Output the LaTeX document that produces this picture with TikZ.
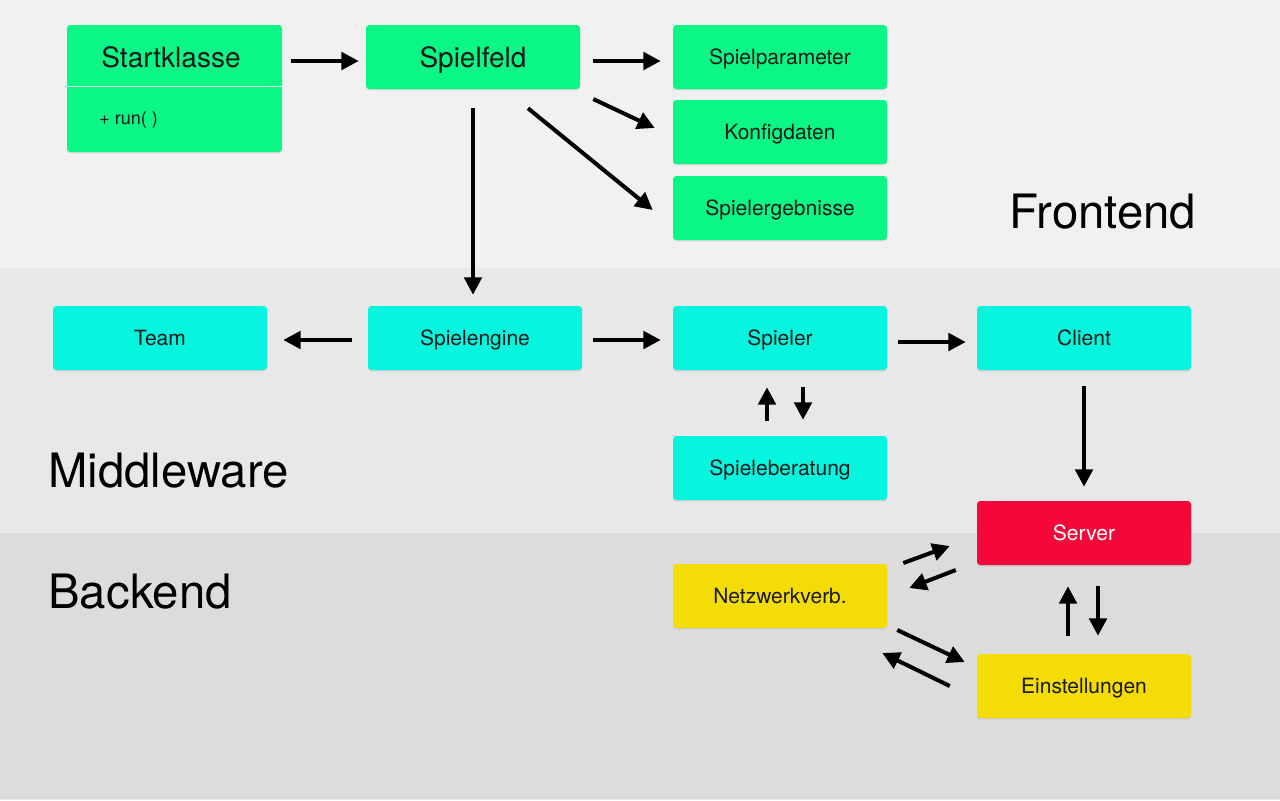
\documentclass[tikz,border=0pt]{standalone}
\usepackage{fontspec}
\setmainfont{TeX Gyre Heros}
\usetikzlibrary{arrows.meta,shadows}
\definecolor{bgF}{HTML}{F1F1F1}
\definecolor{bgM}{HTML}{E8E8E8}
\definecolor{bgB}{HTML}{DCDCDC}
\definecolor{cgreen}{HTML}{0AF786}
\definecolor{ccyan}{HTML}{06F5DE}
\definecolor{cred}{HTML}{F5073A}
\definecolor{cyellow}{HTML}{F4DC07}
\definecolor{ctext}{HTML}{1A1A1A}
\tikzset{
  box/.style={rectangle, rounded corners=2.5pt, minimum width=160.5pt, minimum height=48pt,
    inner sep=0pt, text=ctext, text depth=0pt, font=\fontsize{15.75}{18}\selectfont,
    drop shadow={opacity=0.22, shadow xshift=0pt, shadow yshift=-1pt}},
  gbox/.style={box, fill=cgreen},
  cbox/.style={box, fill=ccyan},
  rbox/.style={box, fill=cred, text=white},
  ybox/.style={box, fill=cyellow},
  arr/.style={line width=3pt, -{Triangle[length=13pt,width=13pt]}},
  band/.style={font=\fontsize{35.5}{40}\selectfont, text=black, inner sep=0pt}
}
\begin{document}
\begin{tikzpicture}[x=0.75pt,y=-0.75pt]
\useasboundingbox (0,0) rectangle (1280,800);
\fill[bgF] (0,0) rectangle (1280,268);
\fill[bgM] (0,268) rectangle (1280,533);
\fill[bgB] (0,533) rectangle (1280,799);
\fill[bgM] (0,799) rectangle (1280,800);

\node[band, anchor=west] (lfront) at (1009,212) {Frontend};
\node[band, anchor=west] (lmid) at (48,471) {Middleware};
\node[band, anchor=west] (lback) at (48,592) {Backend};

% Startklasse
\node[gbox, minimum width=161.25pt, minimum height=95.25pt] (start) at (174.5,88.5) {};
\draw[draw=black!12, line width=0.6pt] (start.west |- 0,86) -- (start.east |- 0,86);
\node[text=ctext, font=\fontsize{21}{24}\selectfont, inner sep=0pt, text depth=0pt] (startt) at (171,57) {Startklasse};
\node[text=ctext, font=\fontsize{13.5}{16}\selectfont, inner sep=0pt, anchor=west] (startm) at (99,120) {+ run( )};

\node[gbox, font=\fontsize{21}{24}\selectfont] (feld) at (473,57) {Spielfeld};
\node[gbox] (param) at (780,57) {Spielparameter};
\node[gbox] (konf) at (780,132) {Konfigdaten};
\node[gbox] (erg) at (780,208) {Spielergebnisse};

\node[cbox] (team) at (160,338) {Team};
\node[cbox] (engine) at (475,338) {Spielengine};
\node[cbox] (spieler) at (780,338) {Spieler};
\node[cbox] (client) at (1084,338) {Client};
\node[cbox] (berat) at (780,468) {Spieleberatung};

\node[rbox] (server) at (1084,533) {Server};
\node[ybox] (netz) at (780,596) {Netzwerkverb.};
\node[ybox] (einst) at (1084,686) {Einstellungen};

% arrows
\draw[arr] ([shift={(9,-27.5)}]start.east) -- ([shift={(-7,4)}]feld.west);
\draw[arr] ([shift={(13,4)}]feld.east) -- ([shift={(-12,4)}]param.west);
\draw[arr] ([shift={(13,42)}]feld.east) -- ([shift={(-18,-4)}]konf.west);
\draw[arr] ([shift={(55,19)}]feld.south) -- ([shift={(-20,2)}]erg.west);
\draw[arr] ([shift={(0,19)}]feld.south) -- ([shift={(-2,-11)}]engine.north);
\draw[arr] ([shift={(-16,2)}]engine.west) -- ([shift={(16,2)}]team.east);
\draw[arr] ([shift={(11,2)}]engine.east) -- ([shift={(-12,2)}]spieler.west);
\draw[arr] ([shift={(11,4)}]spieler.east) -- ([shift={(-11,4)}]client.west);
\draw[arr] ([shift={(-13,-15)}]berat.north) -- ([shift={(-13,17)}]spieler.south);
\draw[arr] ([shift={(23,17)}]spieler.south) -- ([shift={(23,-16)}]berat.north);
\draw[arr] ([shift={(0,16)}]client.south) -- ([shift={(0,-14)}]server.north);
\draw[arr] ([shift={(16,-33)}]netz.east) -- ([shift={(-27,13)}]server.west);
\draw[arr] ([shift={(-21,37)}]server.west) -- ([shift={(22,-8)}]netz.east);
\draw[arr] ([shift={(10,34)}]netz.east) -- ([shift={(-12,-24)}]einst.west);
\draw[arr] ([shift={(-27,0)}]einst.west) -- ([shift={(-5,57)}]netz.east);
\draw[arr] ([shift={(-16,-18)}]einst.north) -- ([shift={(-16,21)}]server.south);
\draw[arr] ([shift={(14,21)}]server.south) -- ([shift={(14,-18)}]einst.north);
\end{tikzpicture}
\end{document}
